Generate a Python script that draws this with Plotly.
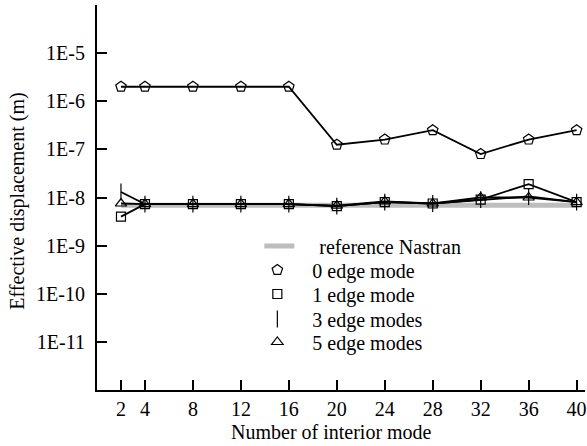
import plotly.graph_objects as go

modes = [2, 4, 8, 12, 16, 20, 24, 28, 32, 36, 40]
ref_nastran = [6.9e-9] * 11
edge0 = [2.0e-6, 2.0e-6, 2.0e-6, 2.0e-6, 2.0e-6, 1.25e-7, 1.6e-7, 2.5e-7, 8.0e-8, 1.6e-7, 2.5e-7]
edge1 = [4.0e-9, 7.3e-9, 7.3e-9, 7.3e-9, 7.3e-9, 6.6e-9, 8.0e-9, 7.5e-9, 9.0e-9, 1.9e-8, 8.0e-9]
edge3 = [1.3e-8, 7.3e-9, 7.3e-9, 7.3e-9, 7.3e-9, 6.6e-9, 8.0e-9, 7.5e-9, 9.0e-9, 1.05e-8, 8.0e-9]
edge5 = [7.5e-9, 7.3e-9, 7.3e-9, 7.3e-9, 7.3e-9, 6.8e-9, 8.3e-9, 7.5e-9, 1.0e-8, 1.0e-8, 8.0e-9]

ytick_vals = [1e-11, 1e-10, 1e-9, 1e-8, 1e-7, 1e-6, 1e-5]
ytick_text = ["1E-11", "1E-10", "1E-9", "1E-8", "1E-7", "1E-6", "1E-5"]
xtick_vals = modes

FONT = "Liberation Serif"
FS = 20
L, T, PW, PH = 97, 5, 490, 385
NB = "\u00a0"
fig = go.Figure()

fig.add_trace(go.Scatter(x=modes, y=ref_nastran, mode="lines",
                         line=dict(color="#bdbdbd", width=5),
                         name=NB * 4 + "reference Nastran", legend="legend"))

series = [
    ("0 edge mode", edge0, "pentagon-open", 11),
    ("1 edge mode", edge1, "square-open", 9),
    ("3 edge modes", edge3, "line-ns-open", 12),
    ("5 edge modes", edge5, "triangle-up-open", 10),
]
for i, (nm, ys, sym, sz) in enumerate(series):
    fig.add_trace(go.Scatter(x=modes, y=ys, mode="lines+markers",
                             line=dict(color="black", width=1.8),
                             marker=dict(symbol=sym, size=sz, color="black",
                                         line=dict(color="black", width=1.2)),
                             showlegend=False))
for i, (nm, ys, sym, sz) in enumerate(series):
    fig.add_trace(go.Scatter(x=[None], y=[None], mode="markers",
                             marker=dict(symbol=sym, size=sz, color="black",
                                         line=dict(color="black", width=1.2)),
                             name=NB * 3 + nm, legend="legend%d" % (i + 2)))

row_y = [246, 270, 294, 319, 342]
leg_x = [260, 258, 258, 258, 258]


def legend_at(px, py):
    return dict(x=(px - L) / PW, y=(T + PH - py) / PH, xanchor="left",
                yanchor="middle", bgcolor="rgba(0,0,0,0)",
                font=dict(family=FONT, size=FS), itemwidth=30,
                borderwidth=0)


layout_legends = {"legend": legend_at(leg_x[0], row_y[0])}
for i in range(4):
    layout_legends["legend%d" % (i + 2)] = legend_at(leg_x[i + 1], row_y[i + 1])

fig.update_layout(
    width=587, height=446,
    margin=dict(l=L, r=587 - L - PW, t=T, b=446 - T - PH),
    paper_bgcolor="white", plot_bgcolor="white",
    font=dict(family=FONT, size=FS, color="black"),
    showlegend=True,
    xaxis=dict(range=[0, 40.7], tickvals=xtick_vals, ticks="inside",
               ticklen=10, tickwidth=2, tickcolor="black",
               showline=True, linewidth=2, linecolor="black",
               showgrid=False, zeroline=False, ticklabeloverflow="allow",
               tickfont=dict(family=FONT, size=FS)),
    yaxis=dict(type="log", range=[-12, -4], tickvals=ytick_vals,
               ticktext=ytick_text, ticks="inside", ticklen=10,
               tickwidth=2, tickcolor="black", showline=True,
               linewidth=2, linecolor="black", showgrid=False,
               zeroline=False, ticklabelstandoff=6,
               tickfont=dict(family=FONT, size=FS)),
    annotations=[
        dict(text="Number of interior mode", xref="paper", yref="paper",
             x=(332 - L) / PW, y=-(432 - 390) / PH, xanchor="center", yanchor="middle",
             showarrow=False, font=dict(family=FONT, size=FS)),
        dict(text="Effective displacement (m)", xref="paper", yref="paper",
             x=-(L - 17) / PW, y=0.49, xanchor="center", yanchor="middle",
             textangle=-90, showarrow=False, font=dict(family=FONT, size=FS)),
    ],
    **layout_legends,
)

fig.write_html("out.html", config={"displayModeBar": False},
               post_script="document.body.style.margin='0';document.body.style.overflow='hidden';")
